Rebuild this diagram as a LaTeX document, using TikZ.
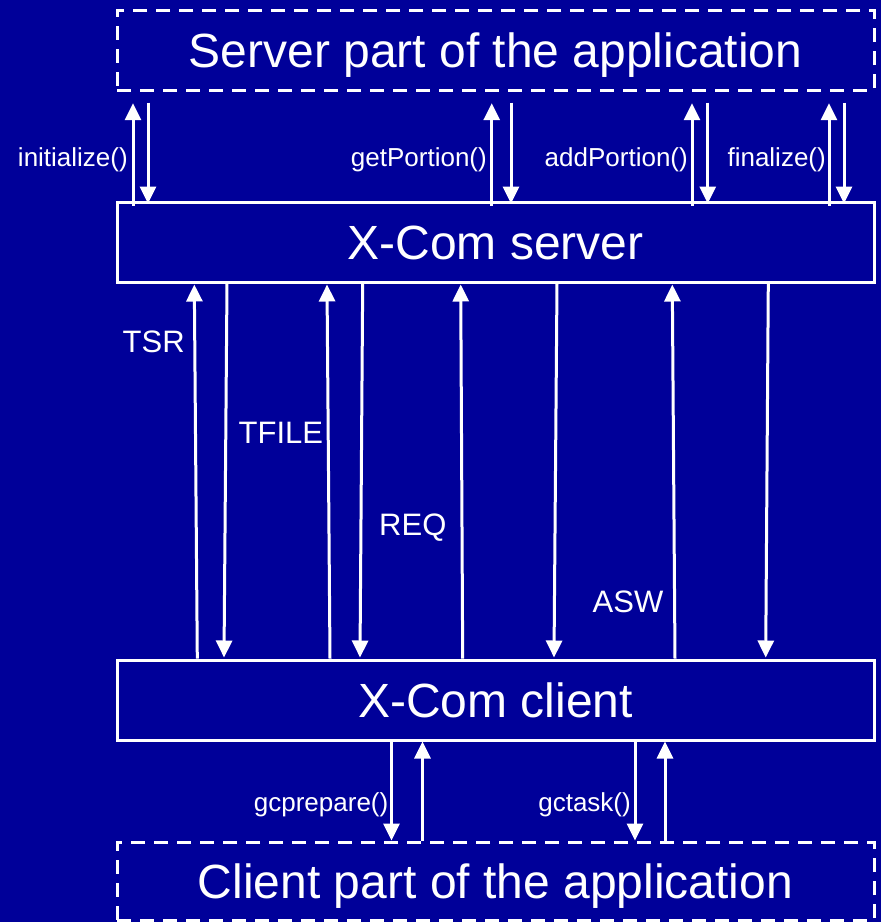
\documentclass[tikz,border=0pt]{standalone}
\usepackage{fontspec}
\setmainfont{Liberation Sans}
\usetikzlibrary{arrows.meta,calc}
\definecolor{bg}{RGB}{0,0,153}
\begin{document}
\begin{tikzpicture}[x=1pt,y=-1pt,
  box/.style={draw=white, line width=3pt, minimum width=757pt, minimum height=80pt,
    inner sep=0pt, text=white, font=\fontsize{48}{48}\selectfont,
    text height=34.4pt, text depth=0pt},
  appbox/.style={box, dash pattern=on 14pt off 9pt},
  arr/.style={draw=white, line width=3pt, -{Triangle[width=16pt,length=17pt]}},
  lab/.style={text=white, font=\fontsize{26}{26}\selectfont, inner sep=0pt, anchor=base east},
  msg/.style={text=white, font=\fontsize{31}{31}\selectfont, inner sep=0pt, anchor=base west}]
\fill[bg] (0,0) rectangle (881,922);
\useasboundingbox (0,0) rectangle (881,922);

\node[appbox] (srvapp) at (495.5,50) {Server part of the application};
\node[box] (srv) at (495.5,242) {X-Com server};
\node[box] (cli) at (495.5,700) {X-Com client};
\node[appbox, minimum height=78pt] (cliapp) at (495.5,881) {Client part of the application};

% server-side calls
\foreach \x in {133,491.7,692,829}
  \draw[arr] ($(\x,0 |- srv.north)+(0,5)$) -- ($(\x,0 |- srvapp.south)+(0,11.7)$);
\foreach \x in {148,511,707.7,844}
  \draw[arr] ($(\x,0 |- srvapp.south)+(0,11)$) -- ($(\x,0 |- srv.north)+(0,3)$);

\node[lab] (linit) at (128,166.7) {initialize()};
\node[lab] (lget) at (487,166.7) {getPortion()};
\node[lab] (ladd) at (688,166.7) {addPortion()};
\node[lab] (lfin) at (826,166.7) {finalize()};

% messages between client and server
\draw[arr] (197.3,0 |- cli.north) -- ($(194.3,0 |- srv.south)+(0,1)$);
\draw[arr] (227,0 |- srv.south) -- ($(224,0 |- cli.north)+(0,-1)$);
\draw[arr] (330,0 |- cli.north) -- ($(327,0 |- srv.south)+(0,1)$);
\draw[arr] (362.7,0 |- srv.south) -- ($(360,0 |- cli.north)+(0,-1)$);
\draw[arr] (462.7,0 |- cli.north) -- ($(460.7,0 |- srv.south)+(0,1)$);
\draw[arr] (557,0 |- srv.south) -- ($(554,0 |- cli.north)+(0,-1)$);
\draw[arr] (675,0 |- cli.north) -- ($(672.3,0 |- srv.south)+(0,1)$);
\draw[arr] (768.3,0 |- srv.south) -- ($(765.7,0 |- cli.north)+(0,-1)$);

\node[msg] (ltsr) at (122.5,352.7) {TSR};
\node[msg] (ltfile) at (238.5,443.3) {TFILE};
\node[msg] (lreq) at (379,535) {REQ};
\node[msg] (lasw) at (592.5,612.3) {ASW};

% client-side calls
\foreach \x in {391.5,635}
  \draw[arr] (\x,0 |- cli.south) -- (\x,0 |- cliapp.north);
\foreach \x in {422.5,665}
  \draw[arr] (\x,0 |- cliapp.north) -- (\x,0 |- cli.south);

\node[lab] (lprep) at (388.5,811.5) {gcprepare()};
\node[lab] (ltask) at (631,811.5) {gctask()};
\end{tikzpicture}
\end{document}
